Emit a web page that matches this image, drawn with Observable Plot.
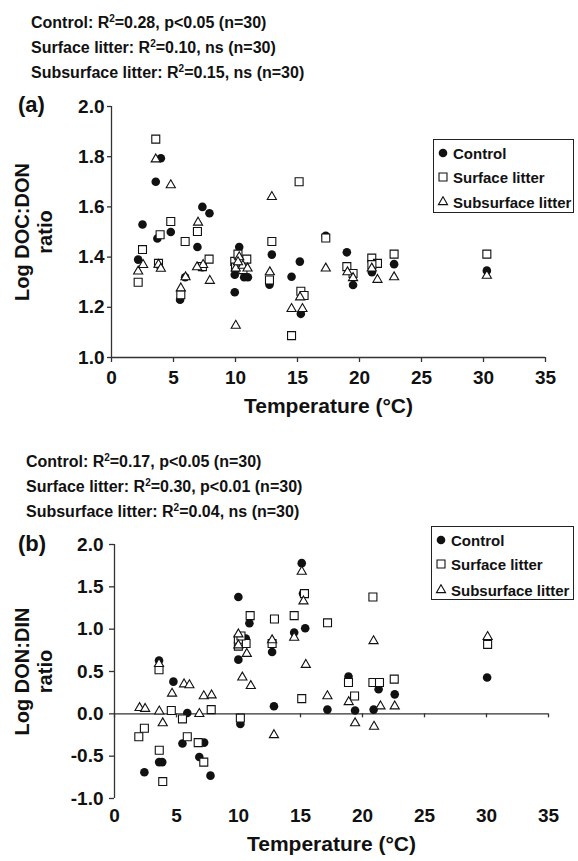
<!DOCTYPE html>
<html>
<head>
<meta charset="utf-8">
<script src="https://cdn.jsdelivr.net/npm/d3@7"></script>
<script src="https://cdn.jsdelivr.net/npm/@observablehq/plot@0.6"></script>
<style>
  body { margin: 0; background: #fff; }
  #wrap { position: relative; width: 578px; height: 861px; overflow: hidden;
          font-family: "Liberation Sans", Arial, Helvetica, sans-serif; font-weight: bold; color: #111; }
  .t { position: absolute; white-space: nowrap; font-size: 16px; line-height: 16px; }
  .t sup { font-size: 10px; line-height: 0; vertical-align: 6px; }
  .tag { position: absolute; font-size: 22px; line-height: 22px; white-space: nowrap; }
  .panel { position: absolute; left: 0; }
  .legend { position: absolute; border: 1px solid #222; background: #fff; box-sizing: border-box; }
  .legend .row { position: absolute; left: 0; height: 20px; display: flex; align-items: center; font-size: 15px; white-space: nowrap; }
  .legend svg { margin: 0 4px 0 3px; }
</style>
</head>
<body>
<div id="wrap"></div>
<script>
// ---------------- data ----------------
const series = ["Control", "Surface litter", "Subsurface litter"];
const xTicks = [0, 5, 10, 15, 20, 25, 30, 35];
const yTicksA = [1.0, 1.2, 1.4, 1.6, 1.8, 2.0];
const yTicksB = [-1.0, -0.5, 0.0, 0.5, 1.0, 1.5, 2.0];

const statsA = [
  ["Control: R", "2", "=0.28, p<0.05 (n=30)"],
  ["Surface litter: R", "2", "=0.10, ns (n=30)"],
  ["Subsurface litter: R", "2", "=0.15, ns (n=30)"]
];
const statsB = [
  ["Control: R", "2", "=0.17, p<0.05 (n=30)"],
  ["Surface litter: R", "2", "=0.30, p<0.01 (n=30)"],
  ["Subsurface litter: R", "2", "=0.04, ns (n=30)"]
];

// Panel (a): Log DOC:DON ratio vs temperature  [temperature, value]
const aControl = [
  [3.98,1.794],[3.57,1.70],[2.5,1.53],[3.7,1.474],[4.78,1.50],[2.15,1.39],[5.53,1.23],[5.94,1.32],
  [7.33,1.60],[7.9,1.575],[6.93,1.44],[10.3,1.44],[9.94,1.26],[9.94,1.33],[10.7,1.32],[11.0,1.32],
  [12.93,1.41],[12.74,1.29],[14.52,1.322],[15.19,1.382],[15.27,1.174],[17.28,1.485],[18.98,1.419],
  [19.48,1.289],[22.79,1.372],[30.27,1.346],[21.0,1.34],[7.33,1.36],[3.79,1.37],[10.5,1.35]
];
const aSurface = [
  [3.57,1.87],[2.15,1.30],[2.5,1.43],[3.79,1.375],[3.92,1.489],[4.78,1.542],[5.59,1.25],[5.94,1.462],
  [6.93,1.502],[7.33,1.362],[7.87,1.392],[9.94,1.383],[10.2,1.412],[10.91,1.392],[12.93,1.462],
  [12.74,1.309],[14.52,1.087],[15.13,1.70],[15.27,1.264],[15.53,1.247],[17.28,1.476],[18.98,1.362],
  [19.48,1.335],[20.99,1.396],[21.45,1.375],[22.79,1.412],[30.27,1.412],[10.0,1.36],[21.0,1.37],[10.6,1.35]
];
const aSubsurface = [
  [3.57,1.79],[4.78,1.687],[2.15,1.343],[2.55,1.369],[3.79,1.37],[3.98,1.354],[5.59,1.276],[5.97,1.32],
  [6.98,1.538],[7.39,1.369],[7.93,1.306],[10.02,1.127],[10.02,1.355],[10.3,1.40],[10.59,1.366],
  [10.97,1.355],[12.93,1.64],[12.77,1.34],[14.52,1.194],[15.21,1.24],[15.4,1.194],[17.28,1.355],
  [19.03,1.34],[19.48,1.317],[20.99,1.355],[21.45,1.31],[22.79,1.32],[30.27,1.326],[6.9,1.36],[10.2,1.38]
];

// Panel (b): Log DON:DIN ratio vs temperature  [temperature, value]
const bControl = [
  [2.41,-0.69],[3.6,-0.57],[3.85,-0.57],[5.48,-0.35],[5.87,0.01],[6.84,-0.51],[7.23,-0.34],[7.74,-0.73],
  [3.59,0.63],[4.75,0.38],[9.99,1.38],[10.88,1.07],[10.59,0.89],[9.99,0.64],[10.15,-0.12],[12.71,0.73],
  [12.86,0.09],[15.1,1.78],[15.2,1.42],[14.49,0.96],[15.38,1.01],[17.17,0.05],[18.87,0.44],[19.4,0.04],
  [20.9,0.05],[21.3,0.29],[22.6,0.23],[30.05,0.43]
];
const bSurface = [
  [1.96,-0.27],[2.41,-0.17],[3.61,-0.43],[3.89,-0.80],[4.58,0.04],[5.48,-0.06],[5.87,-0.27],[6.75,-0.34],
  [7.2,-0.57],[7.8,0.05],[3.59,0.52],[10.15,-0.05],[10.94,1.16],[12.9,1.12],[10.61,0.83],[9.99,0.80],
  [12.71,0.83],[15.32,1.42],[14.49,1.16],[17.18,1.075],[20.84,1.38],[30.09,0.82],[15.1,0.18],[18.87,0.37],
  [19.36,0.21],[20.84,0.37],[21.37,0.37],[22.56,0.41],[9.99,0.88],[10.2,0.92]
];
const bSubsurface = [
  [2.02,0.07],[2.47,0.06],[3.61,0.03],[3.89,-0.11],[4.64,0.24],[6.84,0.0],[7.2,0.21],[7.83,0.22],
  [3.59,0.59],[5.61,0.35],[6.04,0.34],[9.99,0.94],[9.99,0.81],[10.31,0.43],[10.99,0.33],[10.67,0.71],
  [12.71,0.87],[12.86,-0.25],[15.1,1.68],[15.24,1.33],[14.49,0.90],[15.43,0.58],[20.89,0.86],[30.09,0.91],
  [17.17,0.21],[18.89,0.14],[19.4,-0.11],[20.93,-0.15],[21.45,0.09],[22.6,0.09]
];

// ---------------- styles ----------------
const FONT = '"Liberation Sans", Arial, Helvetica, sans-serif';
const INK = "#111";
const AXIS = "#333";
const symStyle = {
  "Control": {symbol: "circle", r: 4.3, fill: INK, stroke: "none", strokeWidth: 0},
  "Surface litter": {symbol: "square", r: 4.5, fill: "#fff", stroke: INK, strokeWidth: 1.1},
  "Subsurface litter": {symbol: "triangle", r: 3.4, fill: "#fff", stroke: INK, strokeWidth: 1.1}
};

const wrap = document.getElementById("wrap");
const fmt = d => d.toFixed(1);

function addText(cls, left, top, html) {
  const d = document.createElement("div");
  d.className = cls;
  d.style.left = left + "px";
  d.style.top = top + "px";
  d.innerHTML = html;
  wrap.appendChild(d);
  return d;
}
function esc(s) { return s.replace(/&/g,"&amp;").replace(/</g,"&lt;").replace(/>/g,"&gt;"); }

function stats(lines, left, tops) {
  lines.forEach((l, i) => addText("t", left, tops[i], esc(l[0]) + "<sup>" + l[1] + "</sup>" + esc(l[2])));
}

function dotMarks(sets) {
  return sets.map(([name, data]) => {
    const s = symStyle[name];
    return Plot.dot(data, {x: d => d[0], y: d => d[1], symbol: () => s.symbol, r: s.r,
      fill: s.fill, stroke: s.stroke, strokeWidth: s.strokeWidth});
  });
}

function legend(left, top, width, height, rowTops) {
  const box = document.createElement("div");
  box.className = "legend";
  Object.assign(box.style, {left: left + "px", top: top + "px", width: width + "px", height: height + "px"});
  series.forEach((name, i) => {
    const s = symStyle[name];
    const row = document.createElement("div");
    row.className = "row";
    row.style.top = rowTops[i] + "px";
    const sym = d3.symbol(s.symbol === "circle" ? d3.symbolCircle : s.symbol === "square" ? d3.symbolSquare : d3.symbolTriangle,
      s.r * s.r * Math.PI);
    row.innerHTML = `<svg width="12" height="12" viewBox="-6 -6 12 12"><path d="${sym()}" fill="${s.fill}" stroke="${s.stroke}" stroke-width="${s.strokeWidth}"/></svg><span>${name}</span>`;
    box.appendChild(row);
  });
  wrap.appendChild(box);
}

function panel(opts) {
  const plot = Plot.plot({
    width: 578, height: opts.height,
    marginLeft: opts.ml, marginRight: opts.mr, marginTop: opts.mt, marginBottom: opts.mb,
    style: {fontFamily: FONT, fontWeight: "bold", fontSize: "19px", color: INK, background: "transparent", overflow: "visible"},
    x: {domain: [xTicks[0], xTicks[xTicks.length - 1]], label: null},
    y: {domain: [opts.yTicks[0], opts.yTicks[opts.yTicks.length - 1]], label: null},
    marks: [
      Plot.axisY({ticks: opts.yTicks, tickFormat: fmt, tickSize: opts.yTickSize, tickPadding: opts.yTickPad, stroke: AXIS, strokeWidth: 1.3, label: null}),
      Plot.axisX({ticks: xTicks, tickFormat: d => String(d), tickSize: opts.xTickSize, tickPadding: opts.xTickPad, stroke: AXIS, strokeWidth: 1.3, label: null}),
      ...(opts.xTicksAtZero ? [Plot.ruleX(xTicks, {y1: opts.xAxisAt, y2: opts.xAxisAt, insetBottom: -4, stroke: AXIS, strokeWidth: 1.3})] : []),
      Plot.ruleY([opts.xAxisAt], {stroke: AXIS, strokeWidth: 1.3}),
      Plot.ruleX([xTicks[0]], {y1: opts.yTicks[0], y2: opts.yTicks[opts.yTicks.length - 1], stroke: AXIS, strokeWidth: 1.3}),
      ...dotMarks(opts.sets),
      Plot.text([opts.yLabel[0]], {frameAnchor: "left", textAnchor: "middle", rotate: -90, dx: opts.yLabelDx[0], dy: opts.yLabelDy, fontSize: 20, fontWeight: "bold", fill: INK}),
      Plot.text([opts.yLabel[1]], {frameAnchor: "left", textAnchor: "middle", rotate: -90, dx: opts.yLabelDx[1], dy: opts.yLabelDy, fontSize: 20, fontWeight: "bold", fill: INK}),
      Plot.text([opts.xLabel], {frameAnchor: "bottom", dy: opts.xLabelDy, fontSize: 21, fontWeight: "bold", fill: INK})
    ]
  });
  plot.classList.add("panel");
  plot.style.top = opts.top + "px";
  wrap.appendChild(plot);
}

// ---------------- panel (a) ----------------
stats(statsA, 31, [15, 40, 65]);
addText("tag", 18, 94, "(a)");
panel({
  top: 90, height: 340, ml: 111, mr: 33, mt: 16, mb: 73,
  yTicks: yTicksA, yTickSize: 4, yTickPad: 3, xTickSize: 5, xTickPad: 8,
  xAxisAt: yTicksA[0], xTicksAtZero: false,
  sets: [["Control", aControl], ["Surface litter", aSurface], ["Subsurface litter", aSubsurface]],
  yLabel: ["Log DOC:DON", "ratio"], yLabelDx: [-89, -66], yLabelDy: 0,
  xLabel: "Temperature (°C)", xLabelDy: 55
});
legend(433, 139, 141, 74, [3, 27, 52]);

// ---------------- panel (b) ----------------
stats(statsB, 26, [454, 479, 504]);
addText("tag", 18, 533, "(b)");
panel({
  top: 530, height: 331, ml: 114, mr: 30, mt: 14, mb: 63,
  yTicks: yTicksB, yTickSize: 5, yTickPad: 6, xTickSize: 0, xTickPad: 10,
  xAxisAt: 0, xTicksAtZero: true,
  sets: [["Control", bControl], ["Surface litter", bSurface], ["Subsurface litter", bSubsurface]],
  yLabel: ["Log DON:DIN", "ratio"], yLabelDx: [-92, -69], yLabelDy: 0,
  xLabel: "Temperature (°C)", xLabelDy: 52
});
legend(431, 526, 143, 74, [3, 27, 53]);
</script>
</body>
</html>
